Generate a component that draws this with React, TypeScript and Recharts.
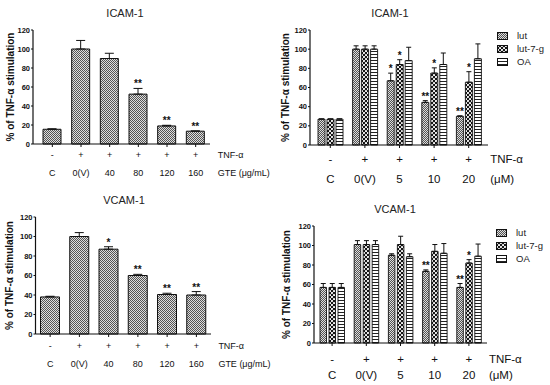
import React from "react";
import { BarChart, Bar, XAxis, YAxis, ErrorBar, LabelList, Legend } from "recharts";

const FONT = '"Liberation Sans", Arial, Helvetica, sans-serif';
const INK = "#111";

// GTE panels (left column)
const gteDose = ["C", "0(V)", "40", "80", "120", "160"];
const gteTnf = ["-", "+", "+", "+", "+", "+"];
const icamGte = [15.5, 100, 90, 52.5, 19, 13.5];
const icamGteErr = [0.5, 9, 5.5, 6, 0.7, 0.3];
const icamGteSig = ["", "", "", "**", "**", "**"];
const vcamGte = [38, 100, 87, 60, 40.5, 40];
const vcamGteErr = [0.7, 4, 2.5, 1.2, 1.3, 3.5];
const vcamGteSig = ["", "", "*", "**", "**", "**"];

// luteolin panels (right column)
const lutDose = ["C", "0(V)", "5", "10", "20"];
const lutTnf = ["-", "+", "+", "+", "+"];
const seriesNames = ["lut", "lut-7-g", "OA"];

const icamLut = [27, 100, 67, 44.5, 30];
const icamLutErr = [0.3, 3.5, 8, 1.8, 0.4];
const icamLutSig = ["", "", "*", "**", "**"];
const icamLut7g = [27, 100, 84, 75, 65.5];
const icamLut7gErr = [0.3, 3.5, 5, 5.5, 11];
const icamLut7gSig = ["", "", "*", "*", "*"];
const icamOa = [27, 100, 88, 84, 90];
const icamOaErr = [0.3, 3.5, 14, 12, 15.5];

const vcamLut = [57, 101, 90, 73.5, 57];
const vcamLutErr = [4, 4, 1.5, 1.5, 4];
const vcamLutSig = ["", "", "", "**", "**"];
const vcamLut7g = [57, 101, 101, 94, 82];
const vcamLut7gErr = [4, 4, 8.5, 7, 3.5];
const vcamLut7gSig = ["", "", "", "", "*"];
const vcamOa = [57, 101, 88.5, 92, 89];
const vcamOaErr = [4, 4, 3, 10, 12.5];

const yTicks = [0, 20, 40, 60, 80, 100, 120];
const fills = ["url(#pFine)", "url(#pDots)", "url(#pStripe)"];

const sigLabel = (vals: number[], errs: number[]) => (props: any) => {
  const { index, value } = props;
  if (!value) return null;
  const vb = props.viewBox || props;
  const { x, y, width, height } = vb;
  const ePx = (height * errs[index]) / vals[index];
  return (
    <text
      x={x + width / 2}
      y={y - ePx - 1}
      textAnchor="middle"
      fontSize={10}
      fontWeight="bold"
      fontFamily={FONT}
      fill={INK}
    >
      {value}
    </text>
  );
};

const makeTick =
  (cats: string[], tnf: string[], rows: number[], fs: number, unit: string, extraDx: number) =>
  (props: any) => {
    const { x, y, payload } = props;
    const i = cats.indexOf(payload.value);
    const ay = y - 5;
    const common = { fontSize: fs, fontFamily: FONT, fill: INK, dominantBaseline: "central" as const };
    return (
      <g>
        <text x={x} y={ay + rows[0]} textAnchor="middle" {...common}>
          {tnf[i]}
        </text>
        <text x={x} y={ay + rows[1]} textAnchor="middle" {...common}>
          {payload.value}
        </text>
        {i === cats.length - 1 && (
          <>
            <text x={x + extraDx} y={ay + rows[0]} textAnchor="start" {...common}>
              TNF-α
            </text>
            <text x={x + extraDx} y={ay + rows[1]} textAnchor="start" {...common}>
              {unit}
            </text>
          </>
        )}
      </g>
    );
  };

const legendContent = () => (
  <div style={{ fontFamily: FONT, fontSize: 9.5, color: "#222" }}>
    {seriesNames.map((n, i) => (
      <div key={n} style={{ display: "flex", alignItems: "center", height: 13 }}>
        <svg width={11} height={8} style={{ marginRight: 9 }}>
          <rect x={0.5} y={0.5} width={10} height={7} fill={fills[i]} stroke={INK} />
        </svg>
        <span>{n}</span>
      </div>
    ))}
  </div>
);

const Title = ({ text, cx, cy }: { text: string; cx: number; cy: number }) => (
  <div
    style={{
      position: "absolute",
      left: cx - 50,
      top: cy - 7,
      width: 100,
      height: 14,
      lineHeight: "14px",
      textAlign: "center",
      fontFamily: FONT,
      fontSize: 11,
      color: "#222",
    }}
  >
    {text}
  </div>
);

const yAxisProps = (w: number, dx: number) => ({
  type: "number" as const,
  domain: [0, 120],
  ticks: yTicks,
  interval: 0 as const,
  width: w,
  tickSize: 2,
  tickMargin: 1,
  tick: { fontSize: 7.5, fontWeight: "bold", fill: INK, fontFamily: FONT },
  axisLine: { stroke: INK, strokeWidth: 1.2 },
  tickLine: { stroke: INK },
  label: {
    value: "% of TNF-α stimulation",
    angle: -90,
    position: "center" as const,
    dx,
    fontSize: 10,
    fontWeight: "bold",
    fill: INK,
    fontFamily: FONT,
  },
});

type GteProps = {
  vals: number[];
  errs: number[];
  sigs: string[];
  left: number;
  top: number;
  height: number;
  margin: { top: number; right: number; bottom: number; left: number };
  yW: number;
  pad: { left: number; right: number };
  barSize: number;
  rows: number[];
  labelDx: number;
};

function GtePanel(p: GteProps) {
  const data = gteDose.map((name, i) => ({
    name,
    v: p.vals[i],
    e: [0, p.errs[i]],
    sig: p.sigs[i],
  }));
  return (
    <div style={{ position: "absolute", left: p.left, top: p.top }}>
      <BarChart width={275} height={p.height} data={data} margin={p.margin}>
        <XAxis
          dataKey="name"
          interval={0}
          height={40}
          padding={p.pad}
          tickSize={3}
          tickMargin={2}
          axisLine={{ stroke: INK, strokeWidth: 1.2 }}
          tickLine={{ stroke: INK }}
          tick={makeTick(gteDose, gteTnf, p.rows, 9, "GTE (μg/mL)", 22)}
        />
        <YAxis {...yAxisProps(p.yW, p.labelDx)} />
        <Bar dataKey="v" fill="url(#pFine)" stroke={INK} strokeWidth={1} barSize={p.barSize} isAnimationActive={false}>
          <ErrorBar dataKey="e" width={4.5} stroke={INK} strokeWidth={1} direction="y" />
          <LabelList dataKey="sig" content={sigLabel(p.vals, p.errs)} />
        </Bar>
      </BarChart>
    </div>
  );
}

type LutProps = {
  series: number[][];
  errs: number[][];
  sigs: string[][];
  left: number;
  top: number;
  height: number;
  margin: { top: number; right: number; bottom: number; left: number };
  yW: number;
  pad: { left: number; right: number };
  barSize: number;
  barGap: number;
  rows: number[];
  labelDx: number;
  extraDx: number;
  legendPos: { left: number; top: number };
};

function LutPanel(p: LutProps) {
  const keys = ["lut", "g", "oa"];
  const data = lutDose.map((name, i) => {
    const row: any = { name };
    keys.forEach((k, s) => {
      row[k] = p.series[s][i];
      row[k + "E"] = [0, p.errs[s][i]];
      row[k + "S"] = p.sigs[s][i];
    });
    return row;
  });
  return (
    <div style={{ position: "absolute", left: p.left, top: p.top }}>
      <BarChart width={275} height={p.height} data={data} margin={p.margin} barGap={p.barGap}>
        <XAxis
          dataKey="name"
          interval={0}
          height={40}
          padding={p.pad}
          tickSize={3}
          tickMargin={2}
          axisLine={{ stroke: INK, strokeWidth: 1.2 }}
          tickLine={{ stroke: INK }}
          tick={makeTick(lutDose, lutTnf, p.rows, 11.5, "(μM)", p.extraDx)}
        />
        <YAxis {...yAxisProps(p.yW, p.labelDx)} />
        <Legend
          layout="vertical"
          align="center"
          verticalAlign="middle"
          wrapperStyle={{ left: p.legendPos.left, top: p.legendPos.top }}
          content={legendContent}
        />
        {keys.map((k, s) => (
          <Bar
            key={k}
            dataKey={k}
            name={seriesNames[s]}
            fill={fills[s]}
            stroke={INK}
            strokeWidth={0.9}
            barSize={p.barSize}
            isAnimationActive={false}
          >
            <ErrorBar dataKey={k + "E"} width={2.5} stroke={INK} strokeWidth={1} direction="y" />
            <LabelList dataKey={k + "S"} content={sigLabel(p.series[s], p.errs[s])} />
          </Bar>
        ))}
      </BarChart>
    </div>
  );
}

export default function App() {
  return (
    <div
      style={{
        position: "absolute",
        left: 0,
        top: 0,
        width: 550,
        height: 385,
        background: "#fff",
        overflow: "hidden",
      }}
    >
      <svg width={0} height={0} style={{ position: "absolute" }}>
        <defs>
          <pattern id="pFine" width={2} height={2} patternUnits="userSpaceOnUse">
            <rect width={2} height={2} fill="#dedede" />
            <rect width={1} height={1} fill="#545454" />
            <rect x={1} y={1} width={1} height={1} fill="#545454" />
          </pattern>
          <pattern id="pDots" width={4} height={4} patternUnits="userSpaceOnUse">
            <rect width={4} height={4} fill="#151515" />
            <circle cx={1} cy={1} r={1.05} fill="#fff" />
            <circle cx={3} cy={3} r={1.05} fill="#fff" />
          </pattern>
          <pattern id="pStripe" width={3} height={3} patternUnits="userSpaceOnUse">
            <rect width={3} height={3} fill="#fff" />
            <rect width={3} height={1} fill="#222" />
          </pattern>
        </defs>
      </svg>

      <Title text="ICAM-1" cx={125} cy={13} />
      <Title text="ICAM-1" cx={390} cy={13} />
      <Title text="VCAM-1" cx={124} cy={200} />
      <Title text="VCAM-1" cx={395} cy={209} />

      <GtePanel
        vals={icamGte}
        errs={icamGteErr}
        sigs={icamGteSig}
        left={0}
        top={0}
        height={192}
        margin={{ top: 30, right: 65, bottom: 8, left: 0 }}
        yW={33}
        pad={{ left: 5, right: 0 }}
        barSize={18}
        rows={[11, 29]}
        labelDx={-6.5}
      />
      <GtePanel
        vals={vcamGte}
        errs={vcamGteErr}
        sigs={vcamGteSig}
        left={0}
        top={192}
        height={193}
        margin={{ top: 25, right: 64, bottom: 11, left: 0 }}
        yW={35.5}
        pad={{ left: 0, right: 0 }}
        barSize={19}
        rows={[12, 30]}
        labelDx={-7.8}
      />
      <LutPanel
        series={[icamLut, icamLut7g, icamOa]}
        errs={[icamLutErr, icamLut7gErr, icamOaErr]}
        sigs={[icamLutSig, icamLut7gSig, ["", "", "", "", ""]]}
        left={275}
        top={0}
        height={192}
        margin={{ top: 30, right: 62, bottom: 7, left: 0 }}
        yW={35}
        pad={{ left: 3, right: 2 }}
        barSize={7}
        barGap={2}
        rows={[14, 34]}
        labelDx={-7.5}
        extraDx={21.5}
        legendPos={{ left: 222, top: 29 }}
      />
      <LutPanel
        series={[vcamLut, vcamLut7g, vcamOa]}
        errs={[vcamLutErr, vcamLut7gErr, vcamOaErr]}
        sigs={[vcamLutSig, vcamLut7gSig, ["", "", "", "", ""]]}
        left={275}
        top={192}
        height={193}
        margin={{ top: 34, right: 63, bottom: 2, left: 0 }}
        yW={39}
        pad={{ left: 1, right: 1 }}
        barSize={6.5}
        barGap={2.5}
        rows={[15.7, 32]}
        labelDx={-7.8}
        extraDx={20}
        legendPos={{ left: 221, top: 34 }}
      />
    </div>
  );
}
